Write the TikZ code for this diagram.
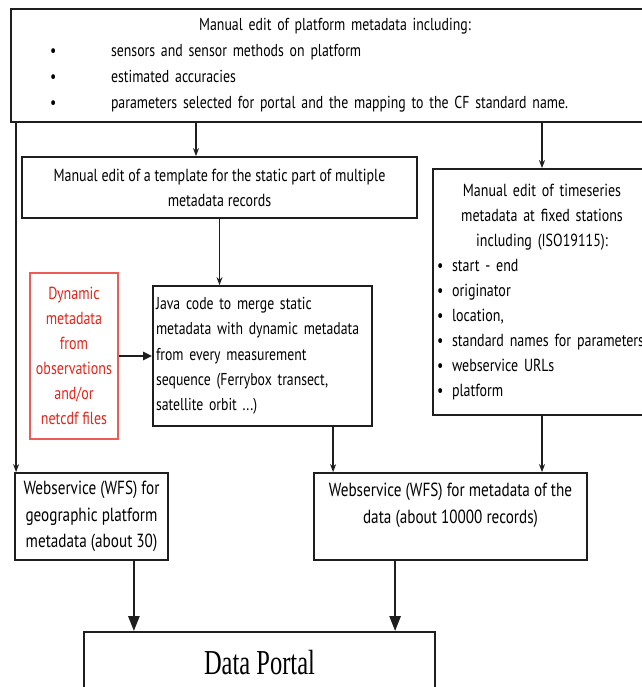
\documentclass[tikz,border=0pt]{standalone}
\usepackage{fontspec}
\setmainfont{PT Sans}[FakeStretch=0.8]
\newfontfamily\portalfont{Liberation Serif}[FakeStretch=0.7]
\usetikzlibrary{arrows.meta,positioning}
\definecolor{dynred}{HTML}{E3261C}
\definecolor{edge}{HTML}{1E1E1E}
\newcommand\boxfont{\fontsize{17.5pt}{25pt}\selectfont}
\newcommand\wfsfont{\fontsize{19pt}{26.5pt}\selectfont}
\newcommand\platformitem[1]{\hspace*{25pt}\makebox[61pt][l]{\textbullet}\mbox{#1}}
\newcommand\stationitem[1]{\makebox[15pt][l]{\textbullet}\mbox{#1}}

\begin{document}
\begin{tikzpicture}[x=1pt, y=-1pt,
  panel/.style={rectangle, draw=edge, line width=1.8pt, inner sep=0pt,
                font=\boxfont, text=black},
  source/.style={rectangle, draw=dynred!75, line width=1.5pt, inner sep=0pt,
                 font=\boxfont, text=dynred, align=center},
  link/.style={-{Stealth[length=8pt,width=6pt]}, line width=1.5pt, draw=edge},
  feed/.style={-{Triangle[length=9pt,width=8pt]}, line width=2.2pt, draw=edge},
  output/.style={-{Triangle[length=15pt,width=11pt]}, line width=2.4pt, draw=edge},
]
  \useasboundingbox (0,0) rectangle (641,687);

  \node[panel, minimum width=648pt, minimum height=113pt, text width=620pt, align=left,
        font=\fontsize{17.3pt}{26pt}\selectfont] (platform) at (335,65.5)
    {\makebox[\hsize][c]{Manual edit of platform metadata including:}\\
     \platformitem{sensors and sensor methods on platform}\\
     \platformitem{estimated accuracies}\\
     \platformitem{parameters selected for portal and the mapping to the CF standard name.}};

  \node[panel, minimum width=395pt, minimum height=61pt, align=center] (tmpl) at (219.5,187.5)
    {Manual edit of a template for the static part of multiple\\ metadata records};

  \node[panel, minimum width=218pt, minimum height=246pt, text width=210pt, align=left] (tseries) at (542,292)
    {\makebox[\hsize][c]{Manual edit of timeseries}\\
     \makebox[\hsize][c]{metadata at fixed stations}\\
     \makebox[\hsize][c]{including (ISO19115):}\\
     \stationitem{start - end}\\
     \stationitem{originator}\\
     \stationitem{location,}\\
     \stationitem{standard names for parameters}\\
     \stationitem{webservice URLs}\\
     \stationitem{platform}};

  \node[source, minimum width=88pt, minimum height=166pt] (dynamic) at (74,356)
    {Dynamic\\ metadata\\ from\\ observations\\ and/or\\ netcdf files};

  \node[panel, minimum width=219pt, minimum height=140pt, text width=213pt, align=left,
        font=\fontsize{17.2pt}{25.3pt}\selectfont] (java) at (262.5,356)
    {Java code to merge static\\ metadata with dynamic metadata\\ from every measurement\\
     sequence (Ferrybox transect,\\ satellite orbit ...)};

  \node[panel, minimum width=153pt, minimum height=87pt, align=center, font=\wfsfont] (wfsgeo) at (91.5,516.5)
    {Webservice (WFS) for\\ geographic platform\\ metadata (about 30)};

  \node[panel, minimum width=273pt, minimum height=87pt, align=center, font=\wfsfont] (wfsdata) at (450.5,516.5)
    {Webservice (WFS) for metadata of the\\ data (about 10000 records)\\ \mbox{}};

  \node[panel, minimum width=351pt, minimum height=62pt, font=\portalfont\fontsize{35pt}{40pt}\selectfont] (portal) at (259.5,663)
    {Data Portal};

  % platform metadata feeds the three branches
  \draw[link] ([xshift=2pt]wfsgeo.north west |- platform.south) -- ([xshift=2pt]wfsgeo.north west);
  \draw[link] ([xshift=-23.5pt]tmpl.north |- platform.south) -- ([xshift=-23.5pt]tmpl.north);
  \draw[link] (platform.south -| tseries.north) -- (tseries.north);

  % merging
  \draw[link] (tmpl.south) -- (tmpl.south |- java.north);
  \draw[feed] (dynamic.east) -- (java.west);

  % webservices
  \draw[link] ([xshift=20pt]wfsdata.north west |- java.south) -- ([xshift=20pt]wfsdata.north west);
  \draw[link] (tseries.south) -- (tseries.south |- wfsdata.north);

  % portal
  \draw[output] ([xshift=-35pt]wfsgeo.south east) -- ([xshift=-35pt]wfsgeo.south east |- portal.north);
  \draw[output] ([xshift=82pt]wfsdata.south west) -- ([xshift=82pt]wfsdata.south west |- portal.north);
\end{tikzpicture}
\end{document}
